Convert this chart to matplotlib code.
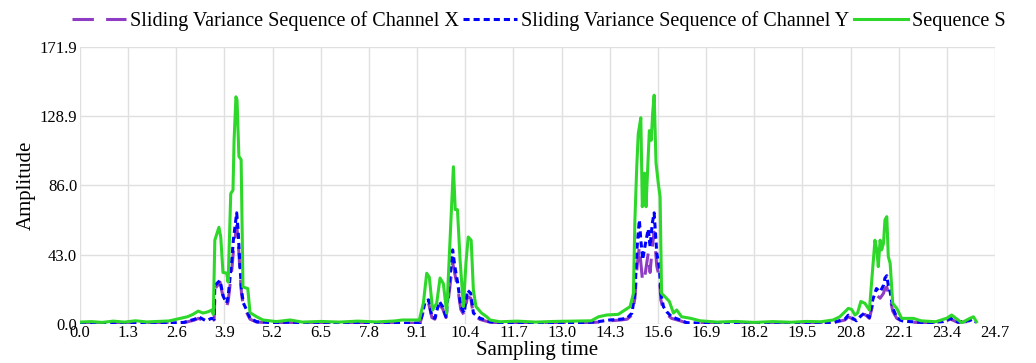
import matplotlib
matplotlib.use('Agg')
import matplotlib.pyplot as plt

plt.rcParams['font.family'] = ['Liberation Serif', 'DejaVu Serif']

# Sliding variance of channel X (purple dashed)
x_time = [0.0, 0.6, 1.2, 1.8, 2.4, 2.8, 3.1, 3.2, 3.4, 3.55, 3.62, 3.65, 3.78, 3.87, 3.96, 4.0,
          4.10, 4.14, 4.23, 4.27, 4.32, 4.36, 4.41, 4.50, 4.59, 4.77, 5.3, 6.0, 6.8, 7.6, 8.4,
          9.18, 9.32, 9.41, 9.50, 9.58, 9.70, 9.79, 9.88, 9.97, 10.06, 10.12, 10.20, 10.28,
          10.37, 10.46, 10.55, 10.62, 10.80, 11.07, 11.6, 12.3, 13.0, 13.6, 14.0, 14.3, 14.6,
          14.77, 14.90, 14.98, 15.04, 15.10, 15.14, 15.19, 15.25, 15.34, 15.39, 15.45, 15.50,
          15.57, 15.64, 15.68, 15.75, 15.84, 15.97, 16.2, 16.38, 17.0, 17.8, 18.6, 19.4, 20.0,
          20.33, 20.65, 20.74, 20.83, 20.96, 21.08, 21.19, 21.31, 21.40, 21.50, 21.60, 21.69,
          21.73, 21.78, 21.82, 21.87, 21.94, 22.05, 22.19, 22.4, 22.9, 23.3, 23.5, 23.7, 24.0,
          24.1, 24.2]
x_var = [0.3, 0.5, 0.2, 0.6, 0.3, 0.8, 2.5, 3.5, 1.5, 2.5, 2.5, 22, 26, 16, 11, 14,
         34, 45, 61, 52, 32, 19, 11, 7, 3, 1.2, 0.6, 0.9, 0.4, 0.7, 0.4,
         0.5, 12, 13, 4, 3, 12, 9.5, 4, 20, 38, 31, 22, 9,
         5.5, 17, 16, 5.5, 2.8, 1.1, 0.5, 0.7, 0.4, 0.6, 1.2, 2.0, 2.5,
         3, 5.5, 16, 36, 48, 38, 26, 30, 44, 32, 48, 57,
         36, 29, 15, 8.5, 6, 3.5, 2, 0.7, 0.4, 0.7, 0.3, 0.6, 0.5,
         0.8, 2.5, 4.5, 3.5, 1.8, 4, 6, 3.5, 12, 18, 16, 19,
         22, 23, 19, 16, 8, 3.5, 1.8, 1.2, 0.6, 1.2, 3.0, 1.0, 1.6,
         2.5, 0.8]

# Sliding variance of channel Y (blue dotted)
y_time = [0.0, 0.5, 1.0, 1.5, 2.0, 2.5, 2.8, 3.1, 3.2, 3.4, 3.55, 3.62, 3.64, 3.78, 3.87, 3.96,
          4.0, 4.10, 4.14, 4.23, 4.27, 4.32, 4.36, 4.41, 4.50, 4.59, 4.77, 5.2, 5.7, 6.2, 6.8,
          7.4, 8.0, 8.6, 9.18, 9.32, 9.41, 9.50, 9.58, 9.70, 9.79, 9.88, 9.97, 10.06, 10.12,
          10.20, 10.28, 10.37, 10.46, 10.55, 10.62, 10.80, 11.07, 11.5, 12.0, 12.5, 13.0, 13.5,
          14.0, 14.3, 14.6, 14.77, 14.90, 14.98, 15.04, 15.10, 15.14, 15.19, 15.25, 15.34,
          15.39, 15.45, 15.50, 15.57, 15.64, 15.68, 15.75, 15.84, 15.97, 16.20, 16.38, 16.9,
          17.5, 18.0, 18.6, 19.2, 19.8, 20.33, 20.65, 20.74, 20.83, 20.96, 21.08, 21.19, 21.31,
          21.40, 21.50, 21.60, 21.69, 21.73, 21.78, 21.82, 21.87, 21.94, 22.05, 22.19, 22.4,
          22.9, 23.3, 23.5, 23.7, 24.0, 24.1, 24.2]
y_var = [0.4, 0.7, 0.3, 0.8, 0.4, 0.7, 1.0, 3.0, 4.5, 2.0, 3.5, 3.0, 24, 27, 17, 13,
         17, 40, 52, 69, 58, 35.6, 21, 13, 8.7, 3.6, 1.4, 0.8, 1.2, 0.5, 0.8,
         0.4, 0.7, 0.5, 0.6, 14, 15, 4.5, 3.6, 14, 10.8, 4.5, 25, 46, 35.6,
         25, 10.8, 6.8, 21, 19, 6.8, 3.6, 1.4, 0.6, 0.9, 0.4, 0.8, 0.6,
         1.5, 2.5, 3.0, 3.6, 6.8, 19, 48, 64.6, 52, 40, 48, 59,
         48, 62.6, 69, 44, 35.6, 19, 10.8, 7.6, 4.5, 2.5, 0.8, 0.5,
         0.8, 0.4, 0.7, 0.5, 0.8, 1.0, 3.0, 5.5, 4.0, 2.0, 5.0, 7.0, 4.0,
         15, 22, 20, 24, 28.5, 30, 24, 20, 10, 4, 2, 1.5,
         0.8, 1.5, 3.5, 1.2, 2.0, 3.0, 1.0]

# Sequence S (green)
s_time = [0.0, 0.3, 0.6, 0.9, 1.2, 1.5, 1.8, 2.1, 2.4, 2.7, 2.9, 3.05, 3.19, 3.32, 3.46, 3.56,
          3.60, 3.64, 3.75, 3.80, 3.86, 3.96, 4.0, 4.07, 4.13, 4.16, 4.21, 4.24, 4.29, 4.35,
          4.40, 4.53, 4.59, 4.77, 4.94, 5.3, 5.67, 6.0, 6.5, 7.0, 7.5, 8.0, 8.5, 8.7, 9.07,
          9.16, 9.27, 9.36, 9.43, 9.52, 9.63, 9.72, 9.81, 9.90, 9.97, 10.02, 10.08, 10.13,
          10.19, 10.26, 10.35, 10.42, 10.48, 10.56, 10.62, 10.69, 10.84, 10.98, 11.07, 11.34,
          11.8, 12.3, 12.8, 13.3, 13.8, 14.0, 14.22, 14.53, 14.71, 14.85, 14.94, 14.98, 15.03,
          15.07, 15.14, 15.18, 15.24, 15.28, 15.37, 15.42, 15.46, 15.50, 15.55, 15.61, 15.66,
          15.70, 15.79, 15.91, 16.02, 16.11, 16.24, 16.47, 16.74, 17.2, 17.7, 18.2, 18.7, 19.2,
          19.6, 20.0, 20.33, 20.51, 20.65, 20.74, 20.83, 20.92, 20.99, 21.08, 21.19, 21.31,
          21.40, 21.46, 21.51, 21.55, 21.60, 21.64, 21.69, 21.73, 21.78, 21.82, 21.87, 21.94,
          22.05, 22.18, 22.5, 22.7, 23.1, 23.4, 23.53, 23.8, 24.03, 24.12, 24.2]
s_val = [1.2, 1.5, 1.0, 1.8, 1.2, 2.0, 1.3, 1.6, 1.9, 3.5, 4.5, 6.0, 8.0, 6.8, 7.6, 8.7,
         6.0, 52, 60, 54, 32, 31.6, 26, 81, 83, 114, 141, 139, 104, 102,
         23, 22, 7, 4.5, 2.5, 1.5, 2.5, 1.2, 1.6, 1.2, 1.8, 1.3, 1.9, 2.5, 2.5,
         2.5, 13, 31.5, 29, 8.7, 13, 28.5, 25, 6.8, 42, 66.6, 97.6, 71,
         71, 40, 10.8, 38, 54, 52, 21, 10.8, 6.8, 4.5, 2.5, 1.4,
         1.8, 1.2, 1.6, 1.8, 2.0, 4.5, 5.6, 6.0, 8.7, 10.8, 19, 64.6, 97.6,
         118, 128, 72.8, 93.6, 72.8, 120, 114, 131, 142, 100, 87.5, 79,
         19, 17, 14, 6.8, 8.7, 4.5, 3.6, 2.0, 1.2, 1.6, 1.0, 1.5, 1.1,
         1.6, 1.4, 2.5, 4.5, 7.6, 9.7, 9.1, 5.6, 6.8, 14, 12.8, 8.7,
         34.6, 52, 46, 35.6, 52, 46, 50, 64.6, 66.6, 41.8, 37.7, 12.8,
         9.7, 3.5, 3.5, 2.0, 1.4, 3.6, 5.6, 0.8, 3.6, 4.5, 1.4]

x_ticks = [0.0, 1.3, 2.6, 3.9, 5.2, 6.5, 7.8, 9.1, 10.4, 11.7, 13.0, 14.3, 15.6, 16.9,
           18.2, 19.5, 20.8, 22.1, 23.4, 24.7]
y_ticks = [0.0, 43.0, 86.0, 128.9, 171.9]

fig = plt.figure(figsize=(10.36, 3.63), dpi=100)
ax = fig.add_axes([0.0772, 0.1074, 0.8832, 0.7631])

ax.plot(x_time, x_var, color='#8e3cc4', lw=2.2, dashes=(7, 4),
        label='Sliding Variance Sequence of Channel X')
ax.plot(y_time, y_var, color='#0000ff', lw=2.2, dashes=(2, 1.3),
        label='Sliding Variance Sequence of Channel Y')
ax.plot(s_time, s_val, color='#2ed82a', lw=2.2, label='Sequence S')

ax.set_xlim(0, 24.7)
ax.set_ylim(0, 171.9)
ax.set_xticks(x_ticks)
ax.set_xticklabels(['%.1f' % v for v in x_ticks])
ax.set_yticks(y_ticks)
ax.set_yticklabels(['%.1f' % v for v in y_ticks])
ax.tick_params(length=0, labelsize=12)
ax.tick_params(axis='x', pad=1)
ax.tick_params(axis='y', pad=2)
ax.grid(True, color='#e0e0e0', lw=1)
ax.set_axisbelow(True)
for sp in ax.spines.values():
    sp.set_visible(False)

ax.set_xlabel('Sampling time', fontsize=15, labelpad=0)
ax.set_ylabel('Amplitude', fontsize=15, labelpad=3)

fig.legend(loc='center', bbox_to_anchor=(0.52, 0.942), ncol=3, frameon=False,
           fontsize=14.5, handlelength=2.7, handletextpad=0.2, columnspacing=0.2,
           borderaxespad=0)

fig.savefig('out.png', dpi=100)
